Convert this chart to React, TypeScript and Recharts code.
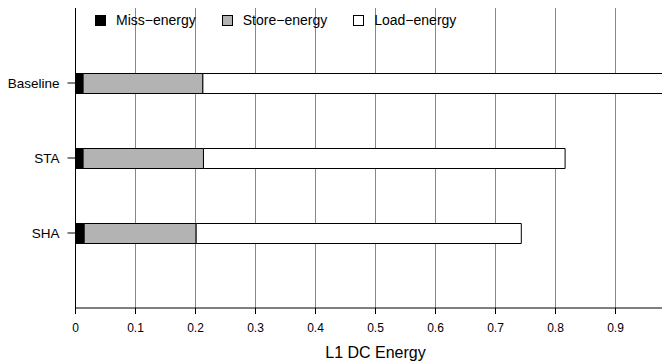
import React from 'react';
import { BarChart, Bar, XAxis, YAxis, CartesianGrid, Legend } from 'recharts';

const categories = ['Baseline', 'STA', 'SHA'];
const missEnergy = [0.0127, 0.0127, 0.0145];
const storeEnergy = [0.1996, 0.2006, 0.1866];
const loadEnergy = [0.7877, 0.6027, 0.5419];
const xTicks = [0, 0.1, 0.2, 0.3, 0.4, 0.5, 0.6, 0.7, 0.8, 0.9];
const seriesNames = ['Miss\u2212energy', 'Store\u2212energy', 'Load\u2212energy'];
const seriesColors = ['#000000', '#b3b3b3', '#ffffff'];
const xTitle = 'L1 DC Energy';

const data = categories.map((name, i) => ({
  name,
  miss: missEnergy[i],
  store: storeEnergy[i],
  load: loadEnergy[i],
}));

const FONT = '"Liberation Sans", Arial, Helvetica, sans-serif';

const LegendContent = () => (
  <div style={{ display: 'flex', alignItems: 'center', fontFamily: FONT, fontSize: 14, color: '#000' }}>
    {seriesNames.map((n, i) => (
      <div key={n} style={{ display: 'flex', alignItems: 'center', marginRight: 26, height: 10 }}>
        <span
          style={{
            display: 'inline-block',
            width: 9,
            height: 9,
            background: seriesColors[i],
            border: '1px solid #000',
            marginRight: 10,
          }}
        />
        <span style={{ lineHeight: '10px', whiteSpace: 'nowrap' }}>{n}</span>
      </div>
    ))}
  </div>
);

export default function App() {
  return (
    <div style={{ width: 662, height: 356, overflow: 'hidden', fontFamily: FONT }}>
      <BarChart
        width={667.5}
        height={370}
        data={data}
        layout="vertical"
        margin={{ top: 0, right: 0, bottom: 40, left: 0 }}
      >
        <CartesianGrid horizontal={false} stroke="#888888" strokeWidth={1} />
        <XAxis
          type="number"
          domain={[0, 1]}
          ticks={xTicks}
          allowDataOverflow
          tickSize={6}
          tickMargin={9}
          height={30}
          axisLine={{ stroke: '#000' }}
          tickLine={{ stroke: '#000' }}
          tick={{ fill: '#000', fontSize: 12, fontFamily: FONT }}
          tickFormatter={(v: number) => String(v)}
          label={{ value: xTitle, position: 'bottom', offset: 8.5, fill: '#000', fontSize: 16, fontFamily: FONT }}
        />
        <YAxis
          type="category"
          dataKey="name"
          width={67.5}
          padding={{ top: 37.5, bottom: 37.5 }}
          tickSize={8}
          tickMargin={8}
          axisLine={{ stroke: '#000' }}
          tickLine={{ stroke: '#000' }}
          tick={{ fill: '#000', fontSize: 13.5, fontFamily: FONT }}
        />
        <Legend
          layout="horizontal"
          verticalAlign="middle"
          align="center"
          content={<LegendContent />}
          wrapperStyle={{ position: 'absolute', left: 87, top: 7, width: 'auto', height: 10 }}
        />
        <Bar dataKey="miss" stackId="a" fill={seriesColors[0]} stroke="#000" strokeWidth={1} barSize={20} isAnimationActive={false} />
        <Bar dataKey="store" stackId="a" fill={seriesColors[1]} stroke="#000" strokeWidth={1} barSize={20} isAnimationActive={false} />
        <Bar dataKey="load" stackId="a" fill={seriesColors[2]} stroke="#000" strokeWidth={1} barSize={20} isAnimationActive={false} />
      </BarChart>
    </div>
  );
}
